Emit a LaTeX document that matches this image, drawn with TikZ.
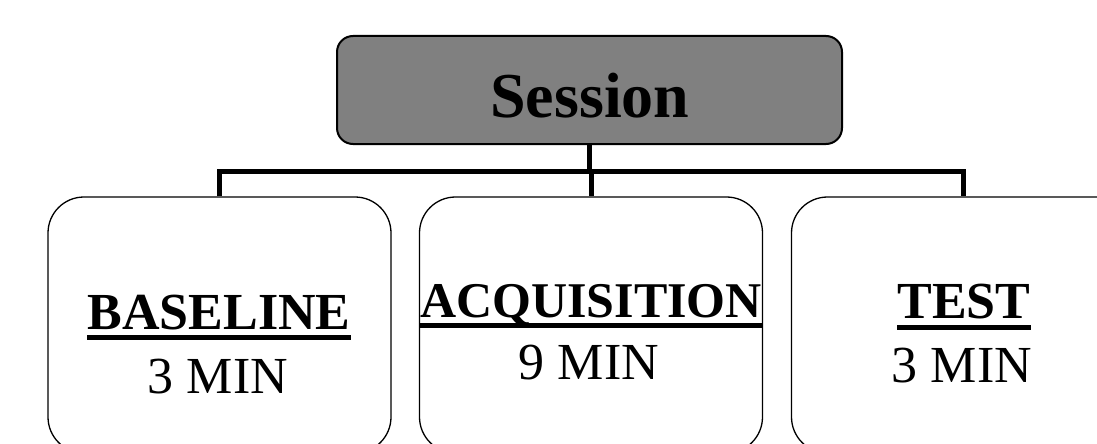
\documentclass[tikz,border=0pt]{standalone}
\usepackage{fontspec}
\setmainfont{Liberation Serif}
\definecolor{sessgray}{HTML}{808080}
\begin{document}
\begin{tikzpicture}[x=1pt,y=-1pt,
  sess/.style={draw=black, line width=2pt, fill=sessgray, rounded corners=16pt,
    minimum width=505pt, minimum height=108pt, inner sep=0pt},
  phase/.style={draw=black, line width=1.3pt, rounded corners=36pt,
    minimum width=343pt, minimum height=256pt, inner sep=0pt},
  conn/.style={line width=5pt, line join=miter},
  sesstxt/.style={font=\fontsize{64}{72}\selectfont\bfseries, anchor=base, inner sep=0pt},
  ttl/.style={font=\fontsize{52}{60}\selectfont\bfseries, anchor=base, inner sep=0pt},
  dur/.style={font=\fontsize{52}{60}\selectfont, anchor=base, inner sep=0pt},
  uline/.style={line width=5pt}]
\useasboundingbox (0,0) rectangle (1097,444);
\clip (0,0) rectangle (1097,444);
% boxes
\node[sess] (s) at (589.5,90) {};
\node[phase] (b1) at (219.5,325) {};
\node[phase] (b2) at (591,325) {};
\node[phase] (b3) at (963,325) {};
\coordinate (bar) at (0,171.5);
% connectors
\draw[conn] (s.south) -- (s.south |- bar);
\draw[conn] (b1.north) -- (b1.north |- bar) -- (b3.north |- bar) -- (b3.north);
\draw[conn] (b2.north |- bar) -- (b2.north);
% texts
\node[sesstxt] (st) at (590,117) {Session};
\node[ttl] (t1) at (219,329) {BASELINE};
\node[dur] (d1) at (218,393) {3 MIN};
\node[ttl, font=\fontsize{50}{58}\selectfont\bfseries] (t2) at (591,317) {ACQUISITION};
\node[dur] (d2) at (589,379) {9 MIN};
\node[ttl] (t3) at (964,318) {TEST};
\node[dur] (d3) at (962,382) {3 MIN};
\draw[uline] ([yshift=-8pt]t1.base west) -- ([yshift=-8pt]t1.base east);
\draw[uline] ([yshift=-8pt]t2.base west) -- ([yshift=-8pt]t2.base east);
\draw[uline] ([yshift=-9pt]t3.base west) -- ([yshift=-9pt]t3.base east);
\end{tikzpicture}
\end{document}
